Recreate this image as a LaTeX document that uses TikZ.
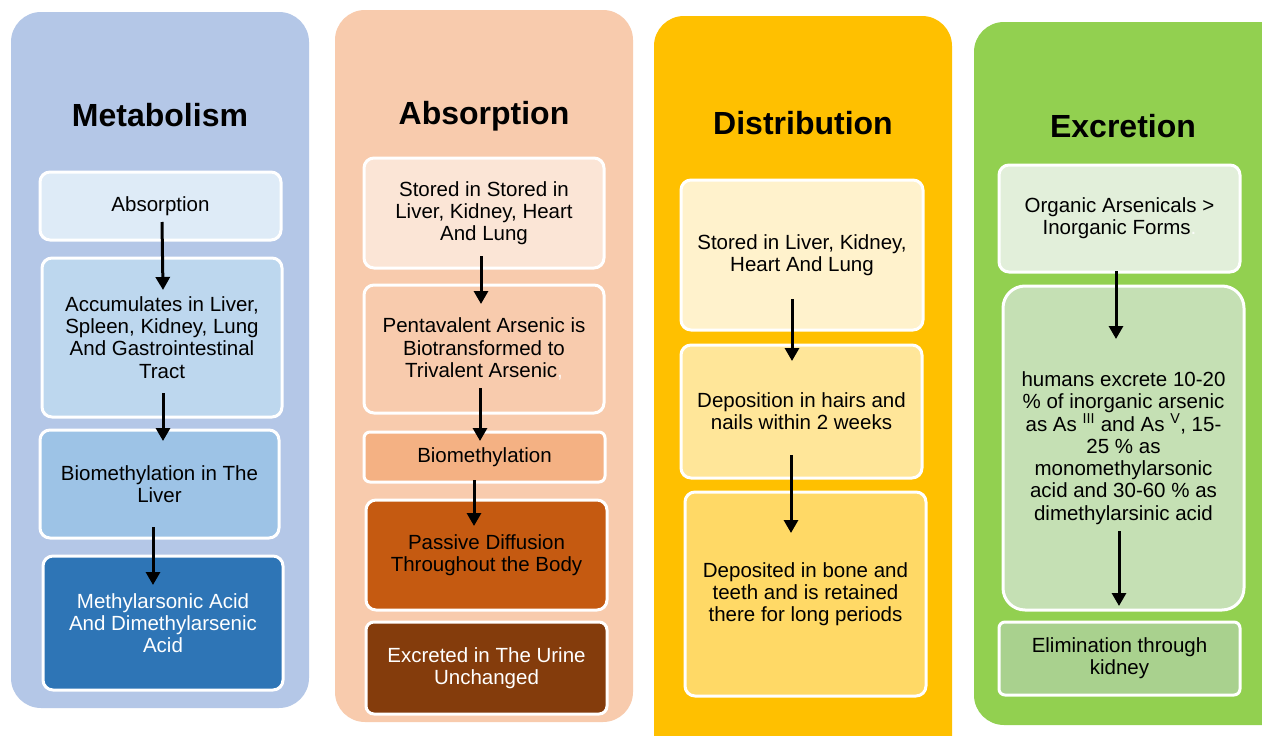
\documentclass[tikz,border=0pt]{standalone}
\usepackage{fontspec}
\setmainfont{Liberation Sans}
\usetikzlibrary{arrows.meta}
\definecolor{bgA}{HTML}{B4C7E7}
\definecolor{mA}{HTML}{DEEBF7}
\definecolor{mB}{HTML}{BDD7EE}
\definecolor{mC}{HTML}{9DC3E6}
\definecolor{mD}{HTML}{2E75B6}
\definecolor{bgB}{HTML}{F8CBAD}
\definecolor{aA}{HTML}{FBE5D6}
\definecolor{aB}{HTML}{F8CBAD}
\definecolor{aC}{HTML}{F4B183}
\definecolor{aD}{HTML}{C55A11}
\definecolor{aE}{HTML}{843C0C}
\definecolor{bgC}{HTML}{FFC000}
\definecolor{dA}{HTML}{FFF2CC}
\definecolor{dB}{HTML}{FFE699}
\definecolor{dC}{HTML}{FFD966}
\definecolor{bgD}{HTML}{92D050}
\definecolor{eA}{HTML}{E2EFDA}
\definecolor{eB}{HTML}{C5E0B4}
\definecolor{eC}{HTML}{A9D18E}
\tikzset{
  panel/.style={rounded corners=30pt},
  stepbox/.style={draw=white, line width=3pt, rounded corners=10pt, inner sep=0pt,
    align=center, font=\fontsize{20.5}{22.3}\selectfont},
  ttl/.style={font=\fontsize{32}{36}\selectfont\bfseries, inner sep=0pt},
  arr/.style={line width=3pt, -{Triangle[width=14pt,length=13pt]}}
}
\begin{document}
\begin{tikzpicture}[x=1pt,y=-1pt]
\useasboundingbox (0,0) rectangle (1262,736);
\fill[white] (0,0) rectangle (1262,736);
\clip (0,0) rectangle (1262,736);
% panels
\fill[panel, bgA] (11,12) rectangle (309,708);
\fill[panel, bgB] (335,10) rectangle (633,722);
\fill[panel, bgC] (654,16) rectangle (952,770);
\fill[panel, bgD] (974,22) rectangle (1292,725);
% titles
\node[ttl] (t1) at (160,115) {Metabolism};
\node[ttl] (t2) at (484,116) {Absorption};
\node[ttl] (t3) at (803,123) {Distribution};
\node[ttl] (t4) at (1123,126) {Excretion};
% column 1
\node[stepbox, fill=mA, minimum width=241pt, minimum height=68pt] (m1) at (160.5,206) {Absorption};
\node[stepbox, fill=mB, minimum width=240pt, minimum height=159pt] (m2) at (162,337.5)
  {Accumulates in Liver,\\Spleen, Kidney, Lung\\And Gastrointestinal\\Tract};
\node[stepbox, fill=mC, minimum width=239pt, minimum height=108pt] (m3) at (159.5,484)
  {Biomethylation in The\\Liver};
\node[stepbox, fill=mD, text=white, minimum width=240pt, minimum height=134pt] (m4) at (163,623)
  {Methylarsonic Acid\\And Dimethylarsenic\\Acid};
\draw[arr] ([shift={(1.5,16)}]m1.center) -- ([shift={(1,-47.5)}]m2.center);
\draw[arr] ([shift={(1,55.5)}]m2.center) -- ([shift={(3.5,-43)}]m3.center);
\draw[arr] ([shift={(-6.5,43)}]m3.center) -- ([shift={(-10,-38)}]m4.center);
% column 2
\node[stepbox, fill=aA, minimum width=240pt, minimum height=110pt] (a1) at (484,213)
  {Stored in Stored in\\Liver, Kidney, Heart\\And Lung};
\node[stepbox, fill=aB, minimum width=240pt, minimum height=128pt] (a2) at (484,349)
  {Pentavalent Arsenic is\\Biotransformed to\\Trivalent Arsenic\textcolor{white!85!bgB}{,}};
\node[stepbox, fill=aC, rounded corners=6pt, minimum width=241pt, minimum height=50pt] (a3) at (484.5,457)
  {Biomethylation};
\node[stepbox, fill=aD, minimum width=241pt, minimum height=110pt] (a4) at (486.5,555)
  {Passive Diffusion\\Throughout the Body};
\node[stepbox, fill=aE, text=white, rounded corners=8pt, minimum width=241pt, minimum height=92pt] (a5) at (486.5,668)
  {Excreted in The Urine\\Unchanged};
\draw[arr] ([shift={(-3,43)}]a1.center) -- ([shift={(-3,-45)}]a2.center);
\draw[arr] ([shift={(-4,39)}]a2.center) -- ([shift={(-4.5,-16)}]a3.center);
\draw[arr] ([shift={(-10.5,23)}]a3.center) -- ([shift={(-12.5,-29)}]a4.center);
% column 3
\node[stepbox, fill=dA, minimum width=242pt, minimum height=150pt] (d1) at (802,255)
  {Stored in Liver, Kidney,\\Heart And Lung};
\node[stepbox, fill=dB, minimum width=241pt, minimum height=133pt] (d2) at (801.5,411.5)
  {Deposition in hairs and\\nails within 2 weeks};
\node[stepbox, fill=dC, minimum width=241pt, minimum height=204pt] (d3) at (805.5,594)
  {Deposited in bone and\\teeth and is retained\\there for long periods};
\draw[arr] ([shift={(-10,44)}]d1.center) -- ([shift={(-9.5,-50.5)}]d2.center);
\draw[arr] ([shift={(-10.5,43.5)}]d2.center) -- ([shift={(-14.5,-61)}]d3.center);
% column 4
\node[stepbox, fill=eA, minimum width=241pt, minimum height=107pt] (e1) at (1119.5,218.5)
  {Organic Arsenicals >\\Inorganic Forms\textcolor{white!85!eA}{.}};
\node[stepbox, fill=eB, rounded corners=22pt, minimum width=241pt, minimum height=324pt] (e2) at (1123.5,448)
  {humans excrete 10-20\\\% of inorganic arsenic\\as As \textsuperscript{III} and As \textsuperscript{V}, 15-\\25 \% as\\monomethylarsonic\\acid and 30-60 \% as\\dimethylarsinic acid};
\node[stepbox, fill=eC, rounded corners=6pt, minimum width=241pt, minimum height=73pt] (e3) at (1119.5,658.5)
  {Elimination through\\kidney};
\draw[arr] ([shift={(-3.5,52.5)}]e1.center) -- ([shift={(-7.5,-109)}]e2.center);
\draw[arr] ([shift={(-4.5,83)}]e2.center) -- ([shift={(-0.5,-52.5)}]e3.center);
\end{tikzpicture}
\end{document}
